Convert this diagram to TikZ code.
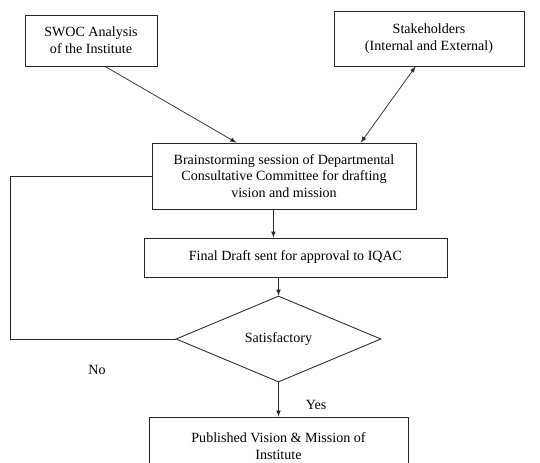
\documentclass[tikz,border=0pt]{standalone}
\usepackage{fontspec}
\setmainfont{Liberation Serif}
\usepackage{tikz}
\usetikzlibrary{arrows,shapes}
\usetikzlibrary{calc}
\tikzstyle{box}=[rectangle,draw=black!85,line width=0.6pt,align=center,inner sep=2pt,font=\fontsize{10}{12}\selectfont]
\tikzstyle{decision}=[diamond,draw=black!85,line width=0.6pt,inner sep=0pt,font=\fontsize{10}{12}\selectfont]
\tikzstyle{edge} = [draw,black!85,line width=0.5pt,-latex]
\tikzstyle{twoway} = [draw,black!85,line width=0.5pt,latex-latex]
\tikzstyle{line} = [draw,black!85,line width=0.5pt]
\tikzstyle{lbl} = [font=\fontsize{10}{12}\selectfont]

\begin{document}
\begin{tikzpicture}

  \def\u{0.025};
  \useasboundingbox (0,0) rectangle (540*\u,-462*\u);

   \foreach \x/\y/\w/\h/\name/\label in {91/40.5/132/51/swoc/{SWOC Analysis\\of the Institute}, 429/38.5/190/55/stake/{Stakeholders\\(Internal and External)}, 284/176/264/66/brain/{Brainstorming session of Departmental\\Consultative Committee for drafting\\vision and mission}, 295.5/257.5/303/39/final/{Final Draft sent for approval to IQAC}, 278.5/446/259/58/pub/{Published Vision \& Mission of\\Institute}}
          \node[box, minimum width=\w*\u cm, minimum height=\h*\u cm] (\name) at (\x*\u, -\y*\u) {\label};

   \node[decision, minimum width=205*\u cm, minimum height=86*\u cm] (sat) at (278.5*\u, -339*\u) {Satisfactory};

   \node[lbl] (no) at (97*\u, -370*\u) {No};
   \node[lbl] (yes) at (316*\u, -405*\u) {Yes};

  \path[edge] ($(swoc.south west)!0.606!(swoc.south east)$) -- ($(brain.north west)!0.32!(brain.north east)$);
  \path[twoway] ($(stake.south west)!0.43!(stake.south east)$) -- ($(brain.north west)!0.79!(brain.north east)$);
  \path[edge] ($(brain.south west)!0.46!(brain.south east)$) coordinate (b1) -- (b1 |- final.north);
  \path[edge] (final.south -| sat.north) -- (sat.north);
  \path[edge] (sat.south) -- (pub.north);

  \coordinate (corner) at (10*\u, -339*\u);
  \path[line] (sat.west) -- (corner) |- (brain.west);

   \end{tikzpicture}
\end{document}
